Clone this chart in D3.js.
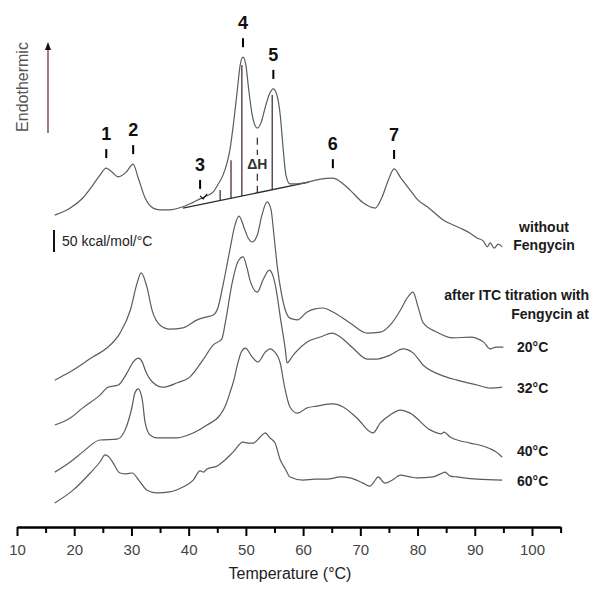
<!DOCTYPE html>
<html>
<head>
<meta charset="utf-8">
<script src="https://cdn.jsdelivr.net/npm/d3@7/dist/d3.min.js"></script>
<style>
  body { margin: 0; background: #fff; }
  text { font-family: "Liberation Sans", Arial, sans-serif; }
</style>
</head>
<body>
<div id="chart-area"></div>
<script>
// DSC thermograms, [temperature °C, Cp kcal/mol/°C (stacked, arbitrary zero)]
var cpWithout = [[16.6,711],[19.3,727],[21.5,750],[23.3,780],[24.5,802],[25.6,818],[26.6,809],[27.7,798],
  [29.1,809],[30.3,827],[31.2,795],[32.4,750],[33.8,727],[35.0,723],[36.7,723],[39.0,730],[40.6,739],
  [42.0,748],[43.2,755],[44.3,764],[45.1,780],[46.0,802],[46.7,830],[47.2,859],[47.8,916],[48.5,995],
  [49.0,1052],[49.5,1070],[50.0,1052],[50.4,1007],[51.1,939],[52.0,909],[52.7,923],[53.4,957],[54.1,986],
  [54.8,998],[55.5,980],[56.0,939],[56.5,864],[57.0,802],[57.7,782],[60.0,784],[61.7,789],[63.0,793],
  [65.2,795],[66.8,784],[68.2,768],[70.5,739],[72.6,727],[73.8,752],[74.9,791],[75.9,816],[77.1,795],
  [78.7,768],[80.1,745],[81.7,730],[84.5,700],[87.4,682],[89.2,670],[90.4,659],[91.5,652],[92.2,639],
  [92.7,648],[93.4,636],[94.1,645],[94.8,639]];

var cp20 = [[16.6,336],[19.3,355],[23.3,389],[25.7,409],[28.0,443],[29.8,495],[31.0,557],[31.7,580],
  [32.7,548],[33.6,495],[35.0,461],[36.7,452],[39.0,455],[41.5,473],[43.2,480],[44.3,484],[45.1,500],
  [46.0,552],[47.2,632],[48.1,689],[48.8,709],[49.7,682],[50.4,659],[51.1,650],[52.0,666],[52.8,711],
  [53.7,741],[54.4,723],[54.9,666],[55.5,593],[56.2,534],[56.9,495],[57.7,477],[59.0,473],[60.7,491],
  [62.1,498],[63.5,500],[65.2,491],[68.2,466],[71.2,443],[73.5,445],[75.2,461],[77.0,495],[78.2,523],
  [79.2,536],[80.1,502],[81.0,466],[83.4,445],[86.2,432],[89.2,434],[91.5,423],[92.7,407],[93.7,411],
  [95.0,411]];

var cp32 = [[16.6,234],[19.3,250],[21.5,273],[24.5,302],[25.9,320],[27.7,325],[29.2,352],[30.3,377],
  [31.2,386],[31.9,377],[32.4,359],[33.8,330],[35.5,320],[38.0,330],[40.2,343],[42.5,382],[44.3,416],
  [45.8,430],[46.4,466],[47.6,557],[48.6,605],[49.5,616],[50.2,591],[50.7,564],[52.0,536],[53.0,564],
  [54.1,586],[54.8,570],[55.3,541],[56.0,480],[56.9,405],[57.2,375],[57.9,386],[58.6,398],[60.7,423],
  [63.0,434],[65.1,443],[66.5,434],[68.7,409],[71.2,384],[72.9,384],[75.2,393],[77.5,407],[79.2,398],
  [81.0,370],[84.0,348],[86.9,336],[90.4,325],[92.7,318],[94.8,320]];

var cp40 = [[16.6,127],[19.3,150],[21.5,173],[24.5,200],[27.5,202],[28.9,223],[30.1,275],[30.6,307],
  [31.2,316],[31.9,291],[32.4,239],[33.3,211],[34.5,205],[38.0,205],[40.8,216],[43.2,234],[45.5,257],
  [46.5,280],[47.2,307],[47.9,336],[48.5,370],[49.2,400],[49.9,409],[51.1,389],[52.1,377],[53.4,400],
  [54.2,407],[54.9,402],[56.0,375],[56.7,325],[57.7,275],[59.0,261],[60.7,273],[62.4,277],[65.2,282],
  [67.0,275],[69.4,250],[72.2,216],[73.5,239],[75.2,257],[77.0,268],[78.7,261],[82.2,223],[84.2,214],
  [84.6,218],[85.7,207],[89.2,193],[91.0,188],[92.7,180],[93.6,174],[94.4,166],[94.8,161]];

var cp60 = [[16.6,57],[19.8,86],[22.8,125],[24.5,150],[25.4,166],[26.1,161],[26.8,148],[28.0,125],
  [29.1,123],[30.1,125],[31.5,105],[32.7,86],[34.5,80],[36.7,82],[39.0,93],[40.8,109],[42.0,130],
  [42.6,127],[43.2,134],[45.0,141],[46.4,155],[47.8,173],[49.5,195],[50.4,193],[51.3,193],[52.5,207],
  [53.4,216],[54.2,205],[55.1,193],[56.0,155],[56.9,134],[57.7,116],[60.0,109],[62.1,111],[64.2,111],
  [66.5,116],[68.2,114],[70.5,102],[71.7,95],[72.4,105],[73.1,116],[74.3,102],[75.6,109],[77.0,120],
  [78.7,116],[79.9,114],[82.7,116],[84.0,123],[84.8,127],[85.7,118],[86.9,116],[90.4,111],[94.8,109]];

var curves = [cpWithout, cp20, cp32, cp40, cp60];

// transition numbering on the reference thermogram
var peakNames = ["1", "2", "3", "4", "5", "6", "7"];
var peakTemps = [25.6, 30.3, 42.0, 49.5, 54.8, 65.2, 75.9];

// ΔH integration: straight baseline and the vertical slices
var dhBaseT = [39.0, 61.0];
var dhBaseCp = [727, 786];
var dhTemps = [45.5, 47.4, 49.3, 52.0, 54.6];
var dhTops = [768, 836, 1052, 893, 984];

var majorTicks = [10, 20, 30, 40, 50, 60, 70, 80, 90, 100];
var minorTicks = [15, 25, 35, 45, 55, 65, 75, 85, 95, 105];

var seriesLabels = ["20°C", "32°C", "40°C", "60°C"];
var scaleBarValue = 50;

var width = 595, height = 590;

var svg = d3.select("#chart-area").append("svg")
    .attr("width", width)
    .attr("height", height);

var x = d3.scaleLinear().domain([10, 105]).range([17, 560.6]);
var y = d3.scaleLinear().domain([0, 1200]).range([528, 0]);

var line = d3.line()
    .x(function (d) { return x(d[0]); })
    .y(function (d) { return y(d[1]); })
    .curve(d3.curveMonotoneX);

function cpAt(data, t) {
    var i = d3.bisector(function (d) { return d[0]; }).left(data, t);
    if (i <= 0) return data[0][1];
    if (i >= data.length) return data[data.length - 1][1];
    var a = data[i - 1], b = data[i];
    return a[1] + (b[1] - a[1]) * (t - a[0]) / (b[0] - a[0]);
}
function baseAt(t) {
    return dhBaseCp[0] + (dhBaseCp[1] - dhBaseCp[0]) * (t - dhBaseT[0]) / (dhBaseT[1] - dhBaseT[0]);
}

// x axis
var axisG = svg.append("g")
    .attr("transform", "translate(0,527)");
axisG.call(d3.axisBottom(x).tickValues(minorTicks).tickSize(6).tickSizeOuter(0).tickFormat(""));
axisG.append("g").call(d3.axisBottom(x).tickValues(majorTicks).tickSize(9).tickSizeOuter(0).tickPadding(8));
axisG.selectAll("path.domain").attr("stroke", "#000").attr("stroke-width", 2.2);
axisG.selectAll(".tick line").attr("stroke", "#000").attr("stroke-width", 2);
axisG.selectAll(".tick text")
    .attr("font-size", "15px")
    .attr("font-family", "'Liberation Sans', Arial, sans-serif")
    .attr("fill", "#444");

svg.append("text")
    .attr("x", 290)
    .attr("y", 579)
    .attr("text-anchor", "middle")
    .attr("font-size", "16px")
    .attr("fill", "#222")
    .text("Temperature (°C)");

// ΔH baseline and slices
svg.append("line")
    .attr("x1", x(dhBaseT[0])).attr("y1", y(dhBaseCp[0]))
    .attr("x2", x(dhBaseT[1])).attr("y2", y(dhBaseCp[1]))
    .attr("stroke", "#2a2a3a").attr("stroke-width", 1.3);

svg.selectAll(".slice")
    .data(dhTemps)
    .enter()
    .append("line")
    .attr("class", "slice")
    .attr("x1", function (d) { return x(d); })
    .attr("x2", function (d) { return x(d); })
    .attr("y1", function (d) { return y(baseAt(d)); })
    .attr("y2", function (d, i) { return y(dhTops[i]); })
    .attr("stroke", "#3a2028")
    .attr("stroke-width", 1.2)
    .attr("stroke-dasharray", function (d, i) { return i === 3 ? "7,5" : null; });

var dhX = x(dhTemps[3]);
var dhY = (y(baseAt(dhTemps[3])) + y(dhTops[3])) / 2;
svg.append("rect")
    .attr("x", dhX - 12).attr("y", dhY - 9)
    .attr("width", 24).attr("height", 17)
    .attr("fill", "#fff");
svg.append("text")
    .attr("x", dhX).attr("y", dhY + 5)
    .attr("text-anchor", "middle")
    .attr("font-size", "14px")
    .attr("font-weight", "bold")
    .attr("fill", "#333")
    .text("ΔH");

// thermograms
svg.selectAll(".curve")
    .data(curves)
    .enter()
    .append("path")
    .attr("class", "curve")
    .attr("d", line)
    .attr("fill", "none")
    .attr("stroke", "#5a5a62")
    .attr("stroke-width", 1.2);

// peak numbers
peakTemps.forEach(function (t, i) {
    var cy = y(cpAt(cpWithout, t));
    var px = x(t);
    svg.append("line")
        .attr("x1", px).attr("x2", px)
        .attr("y1", cy - 10).attr("y2", cy - 19)
        .attr("stroke", "#000").attr("stroke-width", 2);
    svg.append("text")
        .attr("x", px).attr("y", cy - 28)
        .attr("text-anchor", "middle")
        .attr("font-size", "18px")
        .attr("font-weight", "bold")
        .attr("fill", "#111")
        .text(peakNames[i]);
});
// small arrow under label 3
var a3x = x(peakTemps[2]) + 3, a3y = y(cpAt(cpWithout, peakTemps[2])) - 2;
svg.append("path")
    .attr("d", "M" + (a3x - 3) + "," + (a3y - 1) + "L" + a3x + "," + (a3y + 2) + "L" + (a3x + 4) + "," + (a3y - 3))
    .attr("fill", "none").attr("stroke", "#111").attr("stroke-width", 1.2);

// endothermic arrow
svg.append("text")
    .attr("transform", "translate(28,87) rotate(-90)")
    .attr("text-anchor", "middle")
    .attr("font-size", "16px")
    .attr("fill", "#555")
    .text("Endothermic");
svg.append("line")
    .attr("x1", 48).attr("x2", 48)
    .attr("y1", 133).attr("y2", 48)
    .attr("stroke", "#7b2a5a").attr("stroke-width", 1.3);
svg.append("path")
    .attr("d", "M48,42L45,50L51,50Z")
    .attr("fill", "#111");

// scale bar
svg.append("line")
    .attr("x1", 54).attr("x2", 54)
    .attr("y1", 252).attr("y2", 252 - (y(0) - y(scaleBarValue)))
    .attr("stroke", "#111").attr("stroke-width", 2);
svg.append("text")
    .attr("x", 62).attr("y", 246)
    .attr("font-size", "14px")
    .attr("fill", "#222")
    .text(scaleBarValue + " kcal/mol/°C");

// right-hand labels
function label(txt, lx, ly, anchor) {
    svg.append("text")
        .attr("x", lx).attr("y", ly)
        .attr("text-anchor", anchor)
        .attr("font-size", "14px")
        .attr("font-weight", "bold")
        .attr("fill", "#1a1a1a")
        .text(txt);
}
label("without", 544, 232, "middle");
label("Fengycin", 544, 250, "middle");
label("after ITC titration with", 589, 300, "end");
label("Fengycin at", 589, 319, "end");

var labelY = [352, 393, 456, 486];
seriesLabels.forEach(function (s, i) { label(s, 517, labelY[i], "start"); });
</script>
</body>
</html>
